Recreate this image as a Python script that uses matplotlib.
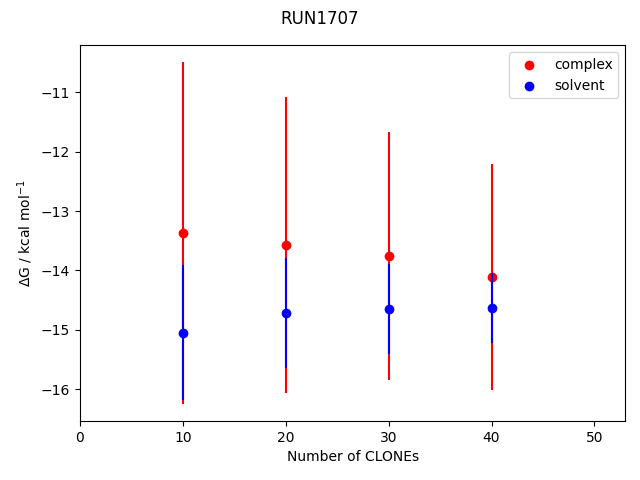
import matplotlib
matplotlib.use("Agg")
import matplotlib.pyplot as plt

# number of clones used for each estimate
n_clones = [10, 20, 30, 40]

# free energies and uncertainties (kcal/mol)
complex_dg = [-13.37, -13.57, -13.76, -14.11]
complex_err = [2.88, 2.50, 2.09, 1.91]
solvent_dg = [-15.05, -14.72, -14.65, -14.63]
solvent_err = [1.14, 0.93, 0.76, 0.59]

fig = plt.figure(figsize=(6.4, 4.8), dpi=100)
plt.scatter(n_clones, complex_dg, color='red', label='complex')
plt.errorbar(n_clones, complex_dg, yerr=complex_err, color='red', ls='none')
plt.scatter(n_clones, solvent_dg, color='blue', label='solvent')
plt.errorbar(n_clones, solvent_dg, yerr=solvent_err, color='blue', ls='none')
plt.xlim(0, 53)
plt.xlabel('Number of CLONEs')
plt.ylabel(r'$\Delta$G / kcal mol$^{-1}$')
plt.legend(loc='upper right')
plt.suptitle('RUN1707')
plt.subplots_adjust(left=0.125, right=0.977, top=0.906, bottom=0.123)
plt.savefig('out.png')
